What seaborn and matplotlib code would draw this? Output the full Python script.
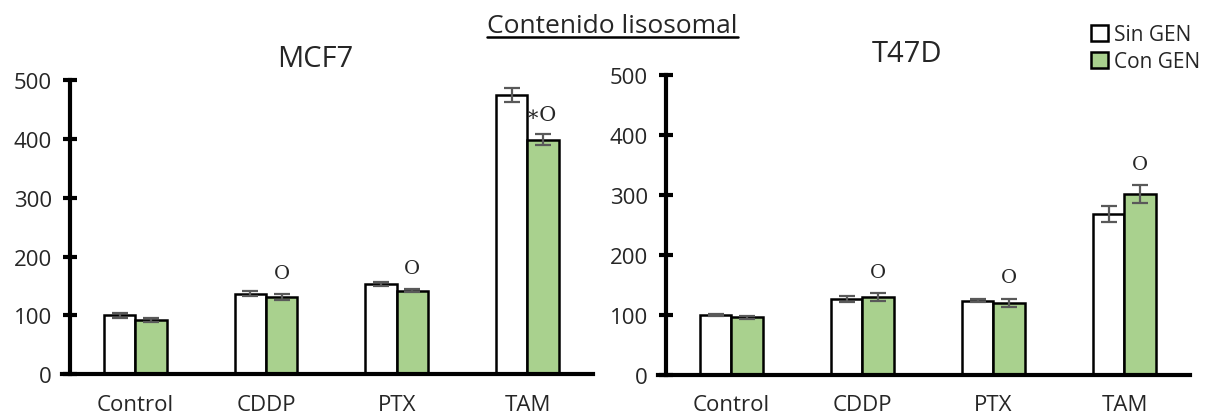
import matplotlib.pyplot as plt
import seaborn as sns
import pandas as pd
from matplotlib.patches import Patch

# Datos
tratamientos = ["Control", "CDDP", "PTX", "TAM"]
grupos = ["Sin GEN", "Con GEN"]

mcf7_sin = [100, 137, 153, 475]
mcf7_sin_err = [4, 5, 3, 12]
mcf7_con = [92, 131, 142, 399]
mcf7_con_err = [4, 5, 3, 9]
mcf7_marcas = ["", "O", "O", "∗O"]

t47d_sin = [100, 126, 124, 268]
t47d_sin_err = [1, 5, 3, 13]
t47d_con = [96, 130, 120, 301]
t47d_con_err = [3, 6, 7, 15]
t47d_marcas = ["", "O", "O", "O"]

colores = {"Sin GEN": "white", "Con GEN": "#A9D18E"}

sns.set_style("white")
plt.rcParams["font.family"] = ["Open Sans", "DejaVu Sans"]

fig = plt.figure(figsize=(12.13, 4.14), dpi=100)
ax1 = fig.add_axes([0.0577, 0.094, 0.431, 0.71])
ax2 = fig.add_axes([0.549, 0.092, 0.432, 0.724])


def panel(ax, titulo, sin, sin_err, con, con_err, marcas):
    df = pd.DataFrame({
        "tratamiento": tratamientos * 2,
        "grupo": [grupos[0]] * 4 + [grupos[1]] * 4,
        "valor": sin + con,
    })
    sns.barplot(data=df, x="tratamiento", y="valor", hue="grupo",
                palette=colores, saturation=1, edgecolor="black",
                linewidth=1.8, width=0.48, errorbar=None, legend=False, ax=ax)
    errores = [sin_err, con_err]
    for cont, err in zip(ax.containers, errores):
        xs = [b.get_x() + b.get_width() / 2 for b in cont]
        ys = [b.get_height() for b in cont]
        ax.errorbar(xs, ys, yerr=err, fmt="none", ecolor="#595959",
                    elinewidth=1.6, capsize=6, capthick=1.6, zorder=5)
    # marcas de significancia sobre la barra "Con GEN"
    for b, m, e, v in zip(ax.containers[1], marcas, con_err, con):
        if not m:
            continue
        x = b.get_x() + b.get_width() / 2
        if len(m) > 1:
            ax.text(b.get_x() - 0.015, v + e + 34, m, ha="left", va="center",
                    family="DejaVu Serif", fontsize=15)
        else:
            ax.text(x, v + e + 36, m, ha="center", va="center",
                    family="DejaVu Serif", fontsize=14)
    ax.set_xlim(-0.5, 3.5)
    ax.set_ylim(0, 500)
    ax.set_yticks(range(0, 501, 100))
    ax.set_xlabel("")
    ax.set_ylabel("")
    ax.set_title(titulo, fontsize=21, pad=10)
    sns.despine(ax=ax)
    for s in ["left", "bottom"]:
        ax.spines[s].set_linewidth(3)
        ax.spines[s].set_color("black")
    ax.spines["bottom"].set_bounds(-0.56, 3.5)
    ax.tick_params(axis="y", left=True, direction="inout", length=10,
                   width=3, labelsize=16, pad=8, color="black",
                   labelcolor="#262626")
    ax.tick_params(axis="x", bottom=False, length=0, labelsize=16, pad=14,
                   labelcolor="#262626")


panel(ax1, "MCF7", mcf7_sin, mcf7_sin_err, mcf7_con, mcf7_con_err, mcf7_marcas)
panel(ax2, "T47D", t47d_sin, t47d_sin_err, t47d_con, t47d_con_err, t47d_marcas)
ax2.title.set_position((0.46, 1.0))
ax1.title.set_position((0.47, 1.0))

titulo = fig.text(0.505, 0.935, "Contenido lisosomal", ha="center",
                  va="center", fontsize=19)
fig.canvas.draw()
bb = titulo.get_window_extent().transformed(fig.transFigure.inverted())
fig.add_artist(plt.Line2D([bb.x0, bb.x1], [bb.y0 + 0.004, bb.y0 + 0.004],
                          color="black", linewidth=1.8,
                          transform=fig.transFigure))

handles = [Patch(facecolor=colores[g], edgecolor="black", linewidth=1.8,
                 label=g) for g in grupos]
fig.legend(handles=handles, loc="upper right", bbox_to_anchor=(1.0, 0.97),
           frameon=False, fontsize=15, handlelength=0.8, handleheight=0.8,
           handletextpad=0.3, labelspacing=0.3, borderaxespad=0.2)

fig.savefig("out.png", dpi=100)
